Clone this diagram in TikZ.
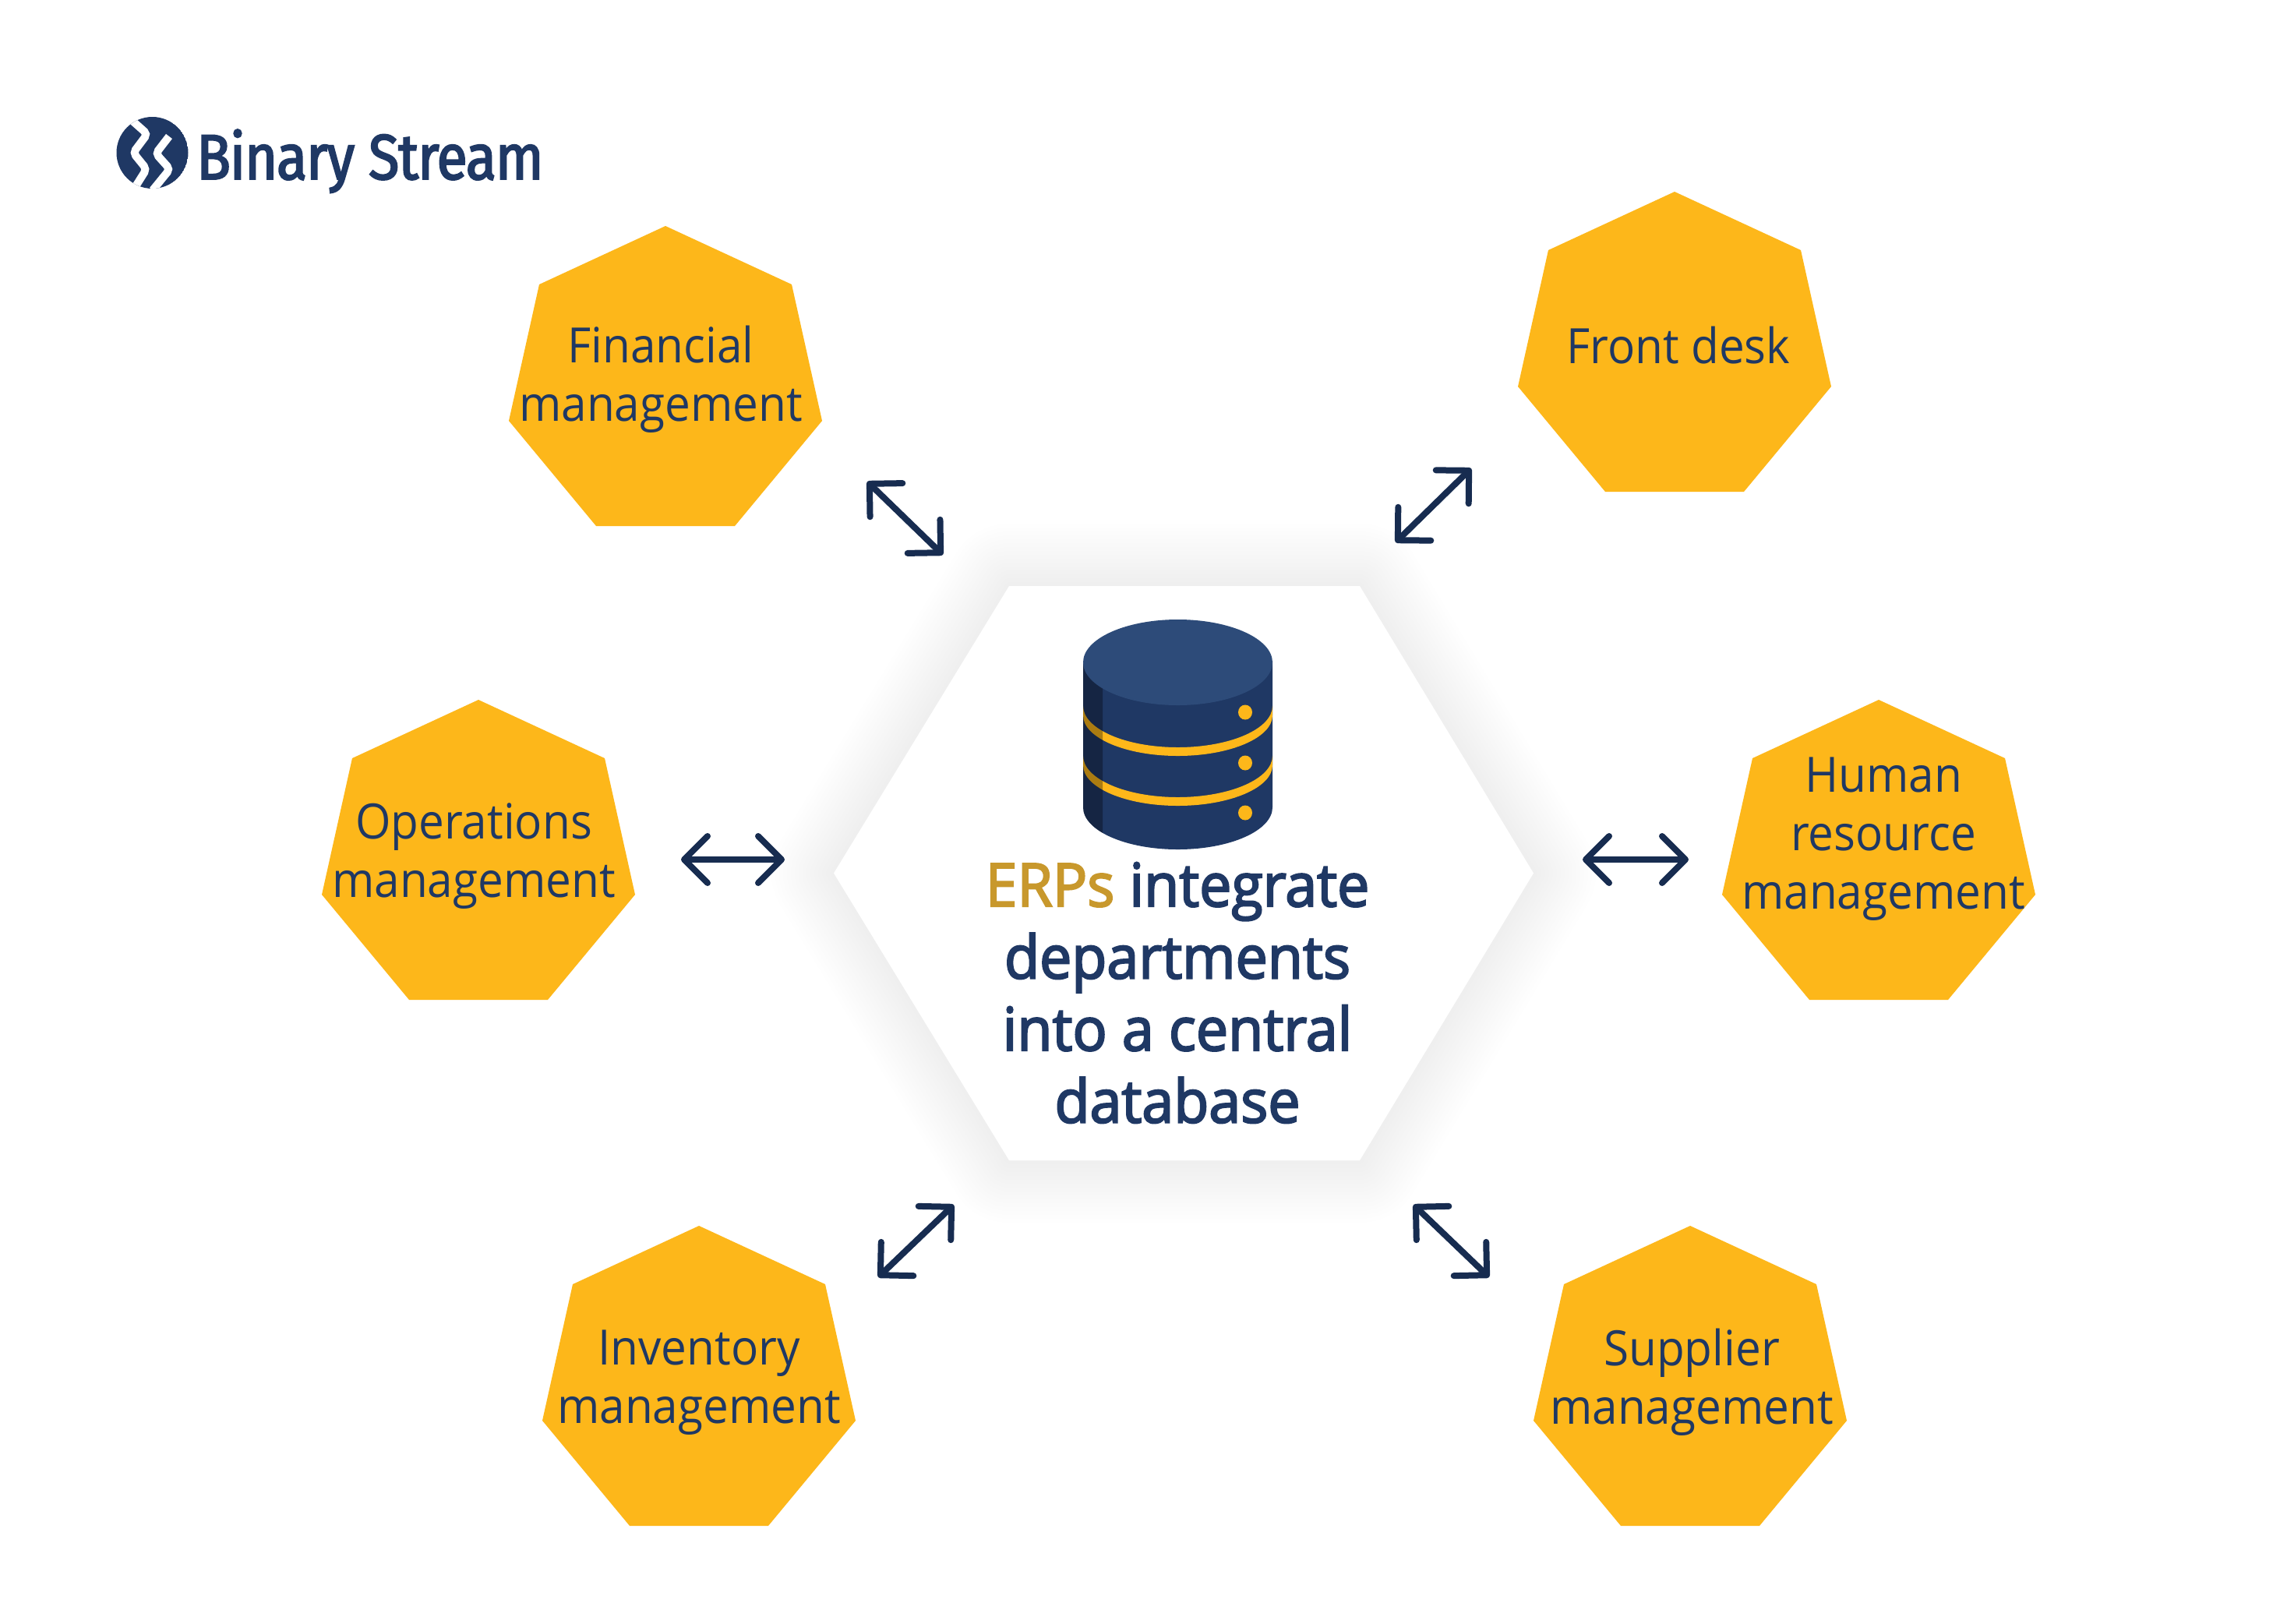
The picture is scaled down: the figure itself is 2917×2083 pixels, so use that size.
\documentclass[tikz,border=0pt]{standalone}
\usepackage{fontspec}
\setmainfont{Open Sans}[FakeStretch=0.935]
\newfontfamily\logofont{Fira Sans}[FakeStretch=0.88,FakeBold=2.4,LetterSpace=-1.5]
\newfontfamily\mainfont{Open Sans}[FakeStretch=0.955,FakeBold=2.8]
\usetikzlibrary{arrows.meta}
\definecolor{navy}{HTML}{1F3864}
\definecolor{navytop}{HTML}{2D4B79}
\definecolor{amber}{HTML}{FDB71A}
\definecolor{erpgold}{HTML}{C8982C}
\definecolor{arrownavy}{HTML}{172C50}
\tikzset{
  heptshape/.style={fill=amber,draw=none},
  heptlabel/.style={align=center,text=navy,inner sep=0pt,font=\fontsize{62.5}{75}\selectfont},
  link/.style={draw=arrownavy,line width=8pt,line cap=round,
    {Straight Barb[length=30pt,width=60pt,line width=8pt,round]}-{Straight Barb[length=30pt,width=60pt,line width=8pt,round]}},
  mainlabel/.style={align=center,text=navy,inner sep=0pt,font=\mainfont\fontsize{77}{92.5}\selectfont},
}
\newcommand{\hept}[6]{%
  \fill[heptshape] (#2,#3) -- ++(162,75) -- ++(39,175) -- ++(-112,135) -- ++(-178,0) -- ++(-112,-135) -- ++(39,-175) -- cycle;
  \node[heptlabel] (#1) at (#4,#5) {#6};
}
\newcommand{\hexpath}{(1070,1120.5) -- (1295,752) -- (1745,752) -- (1968,1120.5) -- (1745,1489) -- (1295,1489) -- cycle}
\begin{document}
\begin{tikzpicture}[x=1pt,y=-1pt]
\useasboundingbox (0,0) rectangle (2917,2083);
\fill[white] (0,0) rectangle (2917,2083);
% logo
\begin{scope}
  \clip (195.5,196) circle [radius=46];
  \fill[navy] (195.5,196) circle [radius=46];
  \draw[white,line width=10pt,rounded corners=5pt] (171,156) -- (189,172) -- (171,196) -- (188,217) -- (171,244);
  \draw[white,line width=10pt,rounded corners=5pt] (217,175) -- (200,197) -- (218,217) -- (196,244);
\end{scope}
\node[anchor=base west,inner sep=0pt,text=navy,font=\logofont\fontsize{82}{82}\selectfont] (logo) at (252,230) {Binary Stream};
% central hexagon with soft shadow
\foreach \w in {10,20,...,160}
  \draw[black,opacity=0.0025,line width=\w pt,line join=round] \hexpath;
\fill[white] \hexpath;
% database
\fill[navy] (1390,848) -- (1390,1036) arc[start angle=180,end angle=0,x radius=121.5,y radius=54] -- (1633,848) -- cycle;
\foreach \ya in {906,970}{
  \fill[amber] (1390,\ya) arc[start angle=180,end angle=0,x radius=121.5,y radius=53]
     -- ++(0,12) arc[start angle=0,end angle=180,x radius=121.5,y radius=52] -- cycle;
}
\begin{scope}
  \clip (1390,790) rectangle (1415,1100);
  \fill[black,opacity=0.32] (1390,848) -- (1390,1036) arc[start angle=180,end angle=0,x radius=121.5,y radius=54] -- (1633,848) -- cycle;
\end{scope}
\fill[navytop] (1511.5,850) ellipse [x radius=121.5,y radius=55];
\foreach \yb in {914,979,1043}
  \fill[amber] (1598,\yb) ellipse [x radius=9,y radius=9.5];
\node[mainlabel] (central) at (1511,1274) {{\color{erpgold}ERPs} integrate\\departments\\into a central\\database};
% satellites
\hept{fin}{854}{290}{848}{487}{Financial\\management}
\hept{front}{2149}{246}{2154}{443}{Front desk}
\hept{ops}{614}{898}{608}{1099}{Operations\\management}
\hept{hr}{2411}{898}{2417}{1077}{Human\\resource\\management}
\hept{inv}{897}{1573}{897}{1774}{Inventory\\management}
\hept{sup}{2169}{1573}{2171}{1774}{Supplier\\management}
% connectors
\coordinate (a1) at (1113,618); \coordinate (a2) at (1210,712);
\coordinate (b1) at (1888,601); \coordinate (b2) at (1791,696);
\coordinate (c1) at (874,1103); \coordinate (c2) at (1007,1103);
\coordinate (d1) at (2031,1103); \coordinate (d2) at (2167,1103);
\coordinate (e1) at (1224,1546); \coordinate (e2) at (1127,1639);
\coordinate (f1) at (1814,1546); \coordinate (f2) at (1911,1639);
\draw[link] (a1) -- (a2);
\draw[link] (b1) -- (b2);
\draw[link] (c1) -- (c2);
\draw[link] (d1) -- (d2);
\draw[link] (e1) -- (e2);
\draw[link] (f1) -- (f2);
\end{tikzpicture}
\end{document}
